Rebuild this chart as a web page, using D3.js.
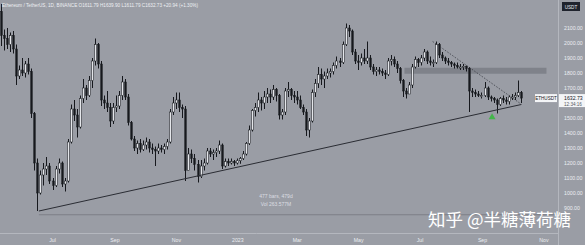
<!DOCTYPE html>
<html>
<head>
<meta charset="utf-8">
<script src="https://cdn.jsdelivr.net/npm/d3@7"></script>
<style>
  body { margin: 0; background: #9a9da5; }
  svg { display: block; }
</style>
</head>
<body>
<div id="chart"></div>
<script>

// ------------------------------------------------------------
// (1) Data  (3-day candles, ETH/USDT)
// ------------------------------------------------------------

const startDate = new Date(2022, 4, 10)
const barDays = 3
const firstOpen = 2210

const highs = [
  2260, 2090, 2100, 2070, 2080, 1990, 1850, 1900, 1880, 1900,
  1830, 1540, 1230, 1150, 1200, 1240, 1200, 1100, 1180, 1230,
  1210, 1100, 1360, 1590, 1620, 1560, 1650, 1760, 1720, 1780,
  1900, 2030, 2000, 1880, 1650, 1680, 1600, 1600, 1650, 1680,
  1780, 1760, 1660, 1480, 1380, 1350, 1360, 1350, 1370, 1360,
  1330, 1310, 1330, 1320, 1330, 1360, 1560, 1640, 1670, 1670,
  1590, 1580, 1300, 1290, 1260, 1220, 1220, 1230, 1300, 1300,
  1290, 1300, 1350, 1330, 1230, 1230, 1230, 1220, 1230, 1240,
  1280, 1340, 1450, 1560, 1600, 1670, 1640, 1680, 1700, 1690,
  1720, 1700, 1660, 1560, 1700, 1740, 1700, 1680, 1680, 1650,
  1590, 1560, 1500, 1690, 1760, 1840, 1830, 1810, 1830, 1830,
  1870, 1910, 1900, 2010, 2130, 2120, 2090, 1960, 1920, 1930,
  1960, 2010, 1920, 1860, 1840, 1840, 1830, 1820, 1900, 1920,
  1910, 1880, 1840, 1760, 1700, 1740, 1860, 1910, 1900, 1920,
  1960, 1950, 1910, 1890, 2010, 2000, 1940, 1910, 1900, 1880,
  1870, 1870, 1860, 1860, 1850, 1840, 1700, 1690, 1680, 1670,
  1740, 1710, 1650, 1640, 1630, 1640, 1650, 1640, 1650, 1660,
  1670, 1750, 1680
]

const lows = [
  1980, 1950, 1960, 1940, 1930, 1720, 1760, 1780, 1770, 1790,
  1500, 1150, 880, 990, 1050, 1120, 1060, 1020, 1040, 1130,
  1040, 1010, 1070, 1330, 1480, 1370, 1430, 1600, 1620, 1640,
  1700, 1850, 1830, 1580, 1560, 1540, 1440, 1460, 1540, 1560,
  1620, 1620, 1450, 1350, 1280, 1260, 1270, 1280, 1290, 1270,
  1260, 1180, 1260, 1270, 1260, 1290, 1330, 1520, 1560, 1540,
  1500, 1080, 1150, 1200, 1150, 1070, 1100, 1150, 1190, 1240,
  1220, 1240, 1260, 1160, 1170, 1180, 1190, 1180, 1190, 1195,
  1220, 1250, 1320, 1410, 1510, 1540, 1550, 1560, 1600, 1600,
  1620, 1610, 1490, 1490, 1520, 1640, 1620, 1600, 1590, 1560,
  1520, 1380, 1370, 1470, 1640, 1700, 1720, 1700, 1760, 1770,
  1790, 1830, 1840, 1860, 1980, 2040, 1920, 1860, 1820, 1850,
  1860, 1860, 1820, 1790, 1780, 1790, 1780, 1760, 1780, 1850,
  1840, 1800, 1730, 1640, 1630, 1660, 1700, 1830, 1840, 1850,
  1880, 1860, 1850, 1840, 1860, 1900, 1880, 1860, 1850, 1840,
  1830, 1830, 1820, 1820, 1810, 1540, 1640, 1640, 1640, 1630,
  1640, 1620, 1610, 1600, 1530, 1580, 1600, 1590, 1590, 1620,
  1620, 1640, 1600
]

const closes = [
  2050, 2030, 1990, 2050, 1960, 1780, 1820, 1800, 1860, 1810,
  1530, 1200, 1000, 1120, 1160, 1180, 1080, 1050, 1160, 1200,
  1060, 1080, 1340, 1560, 1520, 1440, 1630, 1700, 1650, 1750,
  1880, 1990, 1860, 1620, 1600, 1570, 1480, 1570, 1580, 1650,
  1740, 1640, 1470, 1360, 1300, 1330, 1290, 1320, 1340, 1300,
  1290, 1280, 1300, 1290, 1310, 1340, 1540, 1600, 1620, 1570,
  1560, 1150, 1260, 1230, 1190, 1110, 1180, 1200, 1280, 1260,
  1270, 1280, 1320, 1180, 1210, 1200, 1210, 1200, 1215, 1230,
  1260, 1330, 1420, 1550, 1570, 1620, 1600, 1640, 1660, 1640,
  1690, 1650, 1520, 1540, 1680, 1690, 1650, 1640, 1620, 1570,
  1540, 1420, 1480, 1670, 1730, 1790, 1760, 1780, 1800, 1810,
  1850, 1880, 1870, 1990, 2100, 2080, 1940, 1880, 1870, 1900,
  1880, 1900, 1840, 1810, 1820, 1810, 1800, 1790, 1880, 1890,
  1860, 1830, 1750, 1680, 1660, 1720, 1840, 1890, 1870, 1900,
  1940, 1880, 1870, 1870, 1990, 1920, 1900, 1880, 1870, 1860,
  1850, 1840, 1840, 1845, 1830, 1680, 1670, 1660, 1650, 1650,
  1700, 1640, 1630, 1620, 1590, 1630, 1620, 1610, 1640, 1640,
  1650, 1670, 1632.73
]

const priceTicks = [900, 1000, 1100, 1200, 1300, 1400, 1500, 1700, 1800, 1900, 2000, 2100]
const timeTicks = [
  new Date(2022, 6, 1), new Date(2022, 8, 1), new Date(2022, 10, 1),
  new Date(2023, 0, 1), new Date(2023, 2, 1), new Date(2023, 4, 1),
  new Date(2023, 6, 1), new Date(2023, 8, 1), new Date(2023, 10, 1)
]
const timeTickLabels = ["Jul", "Sep", "Nov", "2023", "Mar", "May", "Jul", "Sep", "Nov"]

// drawings on the chart
const trendLine = [[new Date(2022, 5, 18), 880], [new Date(2023, 9, 10), 1590]]
const wedgeLine = [[new Date(2023, 6, 14), 2010], [new Date(2023, 9, 10), 1592]]
const zoneDates = [new Date(2023, 5, 16), new Date(2023, 10, 4)]
const zonePrices = [1795, 1835]
const floorPrice = 855
const arrowPoint = [new Date(2023, 8, 11), 1505]

const headerText = "Ethereum / TetherUS, 1D, BINANCE  O1611.79 H1639.90 L1611.79 C1632.73 +20.94 (+1.30%)"
const measureText = ["477 bars, 479d", "Vol 263.577M"]
const lastPrice = 1632.73
const lastTime = "12:34:16"

// ------------------------------------------------------------
// (2) Layout
// ------------------------------------------------------------

const W = 585, H = 245
const plotRight = 558
const plotBottom = 233
const bg = "#9a9da5"
const ink = "#16181d"
const axisText = "#eceef2"

const svg = d3.select("#chart").append("svg")
  .attr("width", W).attr("height", H)
  .style("font-family", "'Liberation Sans', Arial, sans-serif")

svg.append("rect").attr("width", W).attr("height", H).attr("fill", bg)

const x = d3.scaleTime()
  .domain([new Date(2022, 6, 1), new Date(2023, 8, 1)])
  .range([52, 482])

const y = d3.scaleLinear()
  .domain([900, 2100])
  .range([208, 28])

svg.append("clipPath").attr("id", "plot")
  .append("rect").attr("x", 0).attr("y", 0).attr("width", plotRight).attr("height", plotBottom)

const plot = svg.append("g").attr("clip-path", "url(#plot)")

// ------------------------------------------------------------
// (3) Drawings behind candles
// ------------------------------------------------------------

plot.append("rect")
  .attr("x", x(zoneDates[0]))
  .attr("width", x(zoneDates[1]) - x(zoneDates[0]))
  .attr("y", y(zonePrices[1]))
  .attr("height", y(zonePrices[0]) - y(zonePrices[1]))
  .attr("fill", "#7f828a")

plot.append("line")
  .attr("x1", x(trendLine[0][0])).attr("x2", plotRight)
  .attr("y1", y(floorPrice)).attr("y2", y(floorPrice))
  .attr("stroke", "#7c7f87").attr("stroke-width", 1)

// ------------------------------------------------------------
// (4) Candles
// ------------------------------------------------------------

const candles = closes.map((c, i) => ({
  date: d3.timeHour.offset(startDate, i * barDays * 24 + barDays * 12),
  open: i === 0 ? firstOpen : closes[i - 1],
  high: highs[i],
  low: lows[i],
  close: c
}))

const bodyW = 1.6

const g = plot.append("g")

g.selectAll("line.wick")
  .data(candles)
  .join("line")
    .attr("class", "wick")
    .attr("x1", d => Math.round(x(d.date)) + 0.5)
    .attr("x2", d => Math.round(x(d.date)) + 0.5)
    .attr("y1", d => y(Math.max(d.high, d.open, d.close)))
    .attr("y2", d => y(Math.min(d.low, d.open, d.close)))
    .attr("stroke", ink)
    .attr("stroke-width", 1)

g.selectAll("rect.body")
  .data(candles)
  .join("rect")
    .attr("class", "body")
    .attr("x", d => Math.round(x(d.date)) + 0.5 - bodyW / 2)
    .attr("width", bodyW)
    .attr("y", d => y(Math.max(d.open, d.close)))
    .attr("height", d => Math.max(1, Math.abs(y(d.open) - y(d.close))))
    .attr("fill", d => d.close >= d.open ? "#e4e6ea" : ink)
    .attr("stroke", ink)
    .attr("stroke-width", 0.5)

// ------------------------------------------------------------
// (5) Trend lines, arrow, measure text
// ------------------------------------------------------------

plot.append("line")
  .attr("x1", x(trendLine[0][0])).attr("y1", y(trendLine[0][1]))
  .attr("x2", x(trendLine[1][0])).attr("y2", y(trendLine[1][1]))
  .attr("stroke", "#2a2c33").attr("stroke-width", 1)

plot.append("line")
  .attr("x1", x(wedgeLine[0][0])).attr("y1", y(wedgeLine[0][1]))
  .attr("x2", x(wedgeLine[1][0])).attr("y2", y(wedgeLine[1][1]))
  .attr("stroke", "#3a3c44").attr("stroke-width", 0.8)
  .attr("stroke-dasharray", "1.5,1.5")

const ax = x(arrowPoint[0]), ay = y(arrowPoint[1])
plot.append("path")
  .attr("d", `M${ax},${ay - 4} L${ax + 3.5},${ay + 2} L${ax - 3.5},${ay + 2} Z`)
  .attr("fill", "#43b54a")

svg.selectAll("text.measure")
  .data(measureText)
  .join("text")
    .attr("class", "measure")
    .attr("x", 276)
    .attr("y", (d, i) => 198 + i * 8)
    .attr("text-anchor", "middle")
    .attr("font-size", 5)
    .attr("fill", "#dcdee3")
    .text(d => d)

// ------------------------------------------------------------
// (6) Axes
// ------------------------------------------------------------

svg.append("line")
  .attr("x1", 0).attr("x2", plotRight).attr("y1", plotBottom + 0.5).attr("y2", plotBottom + 0.5)
  .attr("stroke", "#b4b7be")

svg.append("line")
  .attr("x1", plotRight + 0.5).attr("x2", plotRight + 0.5).attr("y1", 0).attr("y2", H)
  .attr("stroke", "#b4b7be")

const yAxis = svg.append("g")
  .attr("transform", `translate(${plotRight}, 0)`)
  .call(d3.axisRight(y).tickValues(priceTicks).tickSize(0).tickPadding(6).tickFormat(d3.format(".2f")))
yAxis.select(".domain").remove()
yAxis.selectAll("text").attr("fill", axisText).attr("font-size", 5.2).style("font-family", "inherit")

const xAxis = svg.append("g")
  .attr("transform", `translate(0, ${plotBottom})`)
  .call(d3.axisBottom(x).tickValues(timeTicks).tickSize(0).tickPadding(5)
    .tickFormat((d, i) => timeTickLabels[i]))
xAxis.select(".domain").remove()
xAxis.selectAll("text").attr("fill", axisText).attr("font-size", 5.2).style("font-family", "inherit")

// currency box
svg.append("rect").attr("x", 562).attr("y", 2).attr("width", 18).attr("height", 9).attr("fill", "#1f232d")
svg.append("text").attr("x", 571).attr("y", 8.5).attr("text-anchor", "middle")
  .attr("font-size", 4.6).attr("fill", "#e8eaee").text("USDT")

// last price labels
const ly = y(lastPrice)
svg.append("rect").attr("x", 535).attr("y", ly - 4).attr("width", 22).attr("height", 8).attr("fill", "#f4f5f7")
svg.append("text").attr("x", 546).attr("y", ly + 1.8).attr("text-anchor", "middle")
  .attr("font-size", 4.6).attr("fill", ink).text("ETHUSDT")
svg.append("rect").attr("x", 559).attr("y", ly - 4).attr("width", 26).attr("height", 13).attr("fill", "#f4f5f7")
svg.append("text").attr("x", 564).attr("y", ly + 1.8)
  .attr("font-size", 5.2).attr("fill", ink).text(d3.format(".2f")(lastPrice))
svg.append("text").attr("x", 564).attr("y", ly + 7.5)
  .attr("font-size", 4.6).attr("fill", "#55585f").text(lastTime)

// header
svg.append("text").attr("x", 2).attr("y", 6.5)
  .attr("font-size", 4.8).attr("fill", "#eef0f3")
  .attr("textLength", 196).attr("lengthAdjust", "spacingAndGlyphs")
  .text(headerText)

// watermark
svg.append("text").attr("x", 428).attr("y", 226)
  .attr("font-size", 17.5).attr("fill", "#ffffff")
  .style("font-family", "'Noto Sans CJK SC', sans-serif")
  .text("知乎 @半糖薄荷糖")

</script>
</body>
</html>
